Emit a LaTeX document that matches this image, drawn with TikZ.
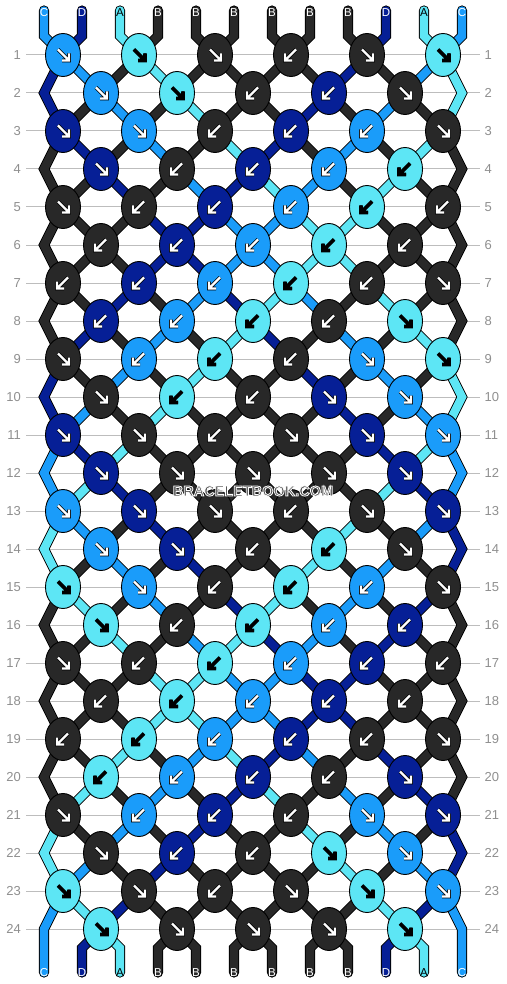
\documentclass[tikz,border=0pt]{standalone}
\usepackage{fontspec}
\setmainfont{Liberation Sans}
\usetikzlibrary{shapes.geometric,backgrounds}

\definecolor{colA}{HTML}{5DE6F5}
\definecolor{colB}{HTML}{282828}
\definecolor{colC}{HTML}{1A9CFA}
\definecolor{colD}{HTML}{061F96}
\colorlet{tipA}{black}
\colorlet{tipB}{white}
\colorlet{tipC}{white}
\colorlet{tipD}{white}
\definecolor{rowgray}{HTML}{BDBDBD}
\definecolor{numgray}{HTML}{8F8F8F}
\definecolor{markgray}{HTML}{555555}

\tikzset{
  knot/.style={ellipse, draw=black, line width=0.9pt, fill=col#1,
    minimum width=35pt, minimum height=43pt, inner sep=0pt},
  strand/.style={draw=black, line width=0.9pt, double=col#1,
    double distance=8.4pt, line cap=round},
  rowline/.style={draw=rowgray, line width=1pt},
  rownum/.style={text=numgray, inner sep=0pt, font=\fontsize{13}{13}\selectfont},
  endlabel/.style={inner sep=0pt, font=\fontsize{11.5}{11.5}\selectfont},
  watermark/.style={inner sep=0pt, font=\bfseries\fontsize{14.5}{14.5}\selectfont},
  knotarrow/.pic={
    \draw[draw=black, line width=0.7pt, double=#1, double distance=2.2pt]
      (-5,-5.5) -- (6,5.5) (-1,5.5) -- (6,5.5) -- (6,-1.5);
  }
}

\begin{document}
\begin{tikzpicture}[x=1pt, y=-1pt,
  declare function={hidx(\v)=(\v<11)*(2*\v+3)+(\v==11)*24+(\v>11)*(\v<23)*(47-2*\v)+(\v==23)*2;}]

        \useasboundingbox (0,0) rectangle (506,984);

        % Knots, row by row (colour / 1 = forward, -1 = backward)
        \foreach \r/\row in {
            1/{C/1,A/1,B/1,B/-1,B/1,A/1},
            2/{C/1,A/1,B/-1,D/-1,B/1},
            3/{D/1,C/1,B/-1,D/-1,C/-1,B/1},
            4/{D/1,B/-1,D/-1,C/-1,A/-1},
            5/{B/1,B/-1,D/-1,C/-1,A/-1,B/-1},
            6/{B/-1,D/-1,C/-1,A/-1,B/-1},
            7/{B/-1,D/-1,C/-1,A/-1,B/-1,B/1},
            8/{D/-1,C/-1,A/-1,B/-1,A/1},
            9/{B/1,C/-1,A/-1,B/-1,C/1,A/1},
            10/{B/1,A/-1,B/-1,D/1,C/1},
            11/{D/1,B/1,B/-1,B/1,D/1,C/1},
            12/{D/1,B/1,B/1,B/1,D/1},
            13/{C/1,D/1,B/1,B/-1,B/1,D/1},
            14/{C/1,D/1,B/-1,A/-1,B/1},
            15/{A/1,C/1,B/-1,A/-1,C/-1,B/1},
            16/{A/1,B/-1,A/-1,C/-1,D/-1},
            17/{B/1,B/-1,A/-1,C/-1,D/-1,B/-1},
            18/{B/-1,A/-1,C/-1,D/-1,B/-1},
            19/{B/-1,A/-1,C/-1,D/-1,B/-1,B/1},
            20/{A/-1,C/-1,D/-1,B/-1,D/1},
            21/{B/1,C/-1,D/-1,B/-1,C/1,D/1},
            22/{B/1,D/-1,B/-1,A/1,C/1},
            23/{A/1,B/1,B/-1,B/1,A/1,C/1},
            24/{A/1,B/1,B/1,B/1,A/1}} {
            \foreach \c/\s [count=\i] in \row {
                \pgfmathtruncatemacro\h{4*\i+1-2*mod(\r,2)}
                \node[knot=\c] (k-\r-\h) at ({44+(\h-2)*19},{55+(\r-1)*38}) {};
                \pic[xscale=\s] at (k-\r-\h) {knotarrow=tip\c};
            }
        }

        % Turning points at the edges
        \foreach \r in {2,4,...,24} {
            \coordinate (k-\r-2) at (44,{55+(\r-1)*38});
            \coordinate (k-\r-24) at (462,{55+(\r-1)*38});
        }

        % String ends and letters
        \foreach \p/\c in {1/C,2/D,3/A,4/B,5/B,6/B,7/B,8/B,9/B,10/D,11/A,12/C} {
            \coordinate (in-\p) at ({44+(\p-1)*38},10.5);
            \coordinate (inb-\p) at ({44+(\p-1)*38},36);
            \coordinate (outb-\p) at ({44+(\p-1)*38},948);
            \coordinate (out-\p) at ({44+(\p-1)*38},972.5);
            \node[endlabel, text=tip\c] (top-\p) at ({44+(\p-1)*38},12.5) {\c};
            \node[endlabel, text=tip\c] (bot-\p) at ({44+(\p-1)*38},973) {\c};
        }

        % Row numbers
        \foreach \r in {1,...,24} {
            \node[rownum, anchor=east] (nl-\r) at (21,{55+(\r-1)*38}) {\r};
            \node[rownum, anchor=west] (nr-\r) at (484.5,{55+(\r-1)*38}) {\r};
        }

        \begin{pgfonlayer}{background}
            \fill[white] (0,0) rectangle (506,984);

            % Row lines
            \foreach \r in {1,...,24}
                \draw[rowline, shorten <=5pt, shorten >=5pt] (nl-\r.east) -- (nr-\r.west);

            % Strings (start offset / position / colour)
            \foreach \uo/\p/\c in {0/1/C,22/2/D,2/3/A,20/4/B,4/5/B,18/6/B,
                                   6/7/B,16/8/B,8/9/B,14/10/D,10/11/A,12/12/C}
                \draw[strand=\c] (in-\p) -- (inb-\p)
                    \foreach \r [evaluate=\r as \h using {int(hidx(mod(\uo+\r-1,24)))}] in {1,...,24} {
                        -- (k-\r-\h.center)
                    }
                    -- (outb-\p) -- (out-\p);
        \end{pgfonlayer}

        % Watermark (grey letters, white outline)
        \node[watermark, text=markgray] (mark) at (253,491)
            {\special{pdf:literal direct 2 Tr 1 1 1 RG 0.8 w}BRACELETBOOK.COM\special{pdf:literal direct 0 Tr}};

    \end{tikzpicture}
\end{document}
